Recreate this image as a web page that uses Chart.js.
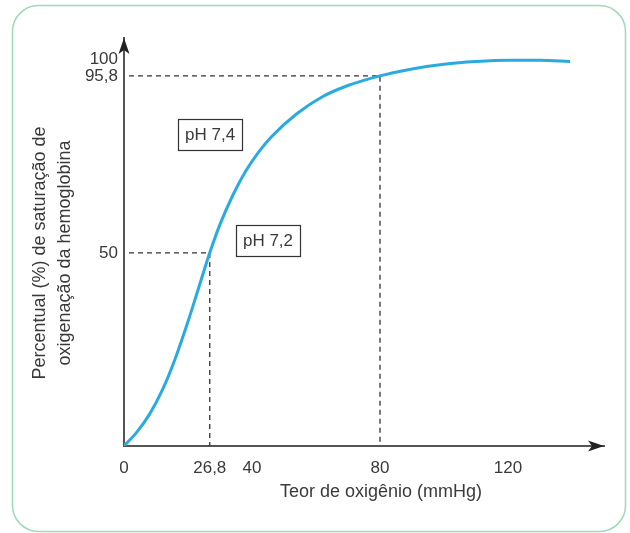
<!DOCTYPE html>
<html>
<head>
<meta charset="utf-8">
<script src="https://cdn.jsdelivr.net/npm/chart.js@4.4.1/dist/chart.umd.min.js"></script>
<style>
  html, body { margin: 0; padding: 0; background: #fff; }
  canvas { display: block; }
</style>
</head>
<body>
<canvas id="myChart" width="630" height="533"></canvas>
<script>
// curva de dissociação da hemoglobina
const pressao = [0, 4, 8, 12, 16, 20, 24, 26.8, 30, 34, 38, 42, 46, 54, 62, 70, 80, 90, 100, 110, 120, 130, 139.4];
const saturacao = [0, 3.6, 8.25, 14.5, 22.6, 32.2, 42.7, 50, 57.35, 64.9, 71.1, 76.0, 80.0, 86.0, 90.4, 93.3, 95.8, 97.6, 98.8, 99.5, 99.85, 99.85, 99.5];

const xTicks = [0, 26.8, 40, 80, 120];
const yTicks = [50, 95.8, 100];

// linhas tracejadas de referência (x, y)
const guiaX = [26.8, 80];
const guiaY = [50, 95.8];

// caixas de rótulo
const rotulos = ['pH 7,4', 'pH 7,2'];
const rotuloX = [26.9, 45];
const rotuloY = [80.7, 53.2];

const tituloX = 'Teor de oxigênio (mmHg)';
const tituloY = ['Percentual (%) de saturação de', 'oxigenação da hemoglobina'];

const FONTE = '"Liberation Sans", Arial, sans-serif';
const COR_TEXTO = '#3a3a3a';
const virgula = v => String(v).replace('.', ',');

const moldura = {
  id: 'moldura',
  beforeDraw(chart) {
    const c = chart.ctx;
    c.save();
    c.fillStyle = '#fff';
    c.fillRect(0, 0, chart.width, chart.height);
    c.strokeStyle = '#9fdab6';
    c.lineWidth = 1.5;
    c.beginPath();
    c.roundRect(12.5, 5.5, 613, 526, 26);
    c.stroke();
    c.restore();
  }
};

const guias = {
  id: 'guias',
  beforeDatasetsDraw(chart) {
    const c = chart.ctx, x = chart.scales.x, y = chart.scales.y;
    const a = chart.chartArea;
    c.save();
    c.strokeStyle = '#333';
    c.lineWidth = 1.3;
    c.setLineDash([5, 4]);
    for (let i = 0; i < guiaX.length; i++) {
      const px = x.getPixelForValue(guiaX[i]);
      const py = y.getPixelForValue(guiaY[i]);
      c.beginPath();
      c.moveTo(a.left + 5, py);
      c.lineTo(px, py);
      c.lineTo(px, a.bottom);
      c.stroke();
    }
    c.restore();
  }
};

const extras = {
  id: 'extras',
  afterDraw(chart) {
    const c = chart.ctx, x = chart.scales.x, y = chart.scales.y;
    const a = chart.chartArea;
    c.save();
    // setas dos eixos
    c.fillStyle = '#222';
    c.beginPath();
    c.moveTo(a.left, a.top);
    c.lineTo(a.left - 5.5, a.top + 16);
    c.lineTo(a.left, a.top + 12);
    c.lineTo(a.left + 5.5, a.top + 16);
    c.closePath();
    c.fill();
    c.beginPath();
    c.moveTo(a.right, a.bottom);
    c.lineTo(a.right - 16, a.bottom - 5.5);
    c.lineTo(a.right - 12, a.bottom);
    c.lineTo(a.right - 16, a.bottom + 5.5);
    c.closePath();
    c.fill();

    // caixas pH
    c.font = '17px ' + FONTE;
    c.textAlign = 'center';
    c.textBaseline = 'middle';
    for (let i = 0; i < rotulos.length; i++) {
      const px = x.getPixelForValue(rotuloX[i]);
      const py = y.getPixelForValue(rotuloY[i]);
      const w = c.measureText(rotulos[i]).width + 14;
      c.strokeStyle = '#333';
      c.lineWidth = 1.2;
      c.strokeRect(Math.round(px - w / 2) + 0.5, Math.round(py - 15.5) + 0.5, Math.round(w), 31);
      c.fillStyle = COR_TEXTO;
      c.fillText(rotulos[i], px, py + 1);
    }

    // títulos dos eixos
    c.fillStyle = COR_TEXTO;
    c.font = '18px ' + FONTE;
    c.fillText(tituloX, 381, 492);
    c.translate(53, 253);
    c.rotate(-Math.PI / 2);
    c.fillText(tituloY[0], 0, -12.5);
    c.fillText(tituloY[1], 0, 12.5);
    c.restore();
  }
};

new Chart(document.getElementById('myChart'), {
  type: 'line',
  data: {
    datasets: [{
      data: pressao.map((p, i) => ({ x: p, y: saturacao[i] })),
      borderColor: '#29abe2',
      borderWidth: 3,
      pointRadius: 0,
      cubicInterpolationMode: 'monotone',
      fill: false
    }]
  },
  options: {
    responsive: false,
    animation: false,
    layout: { padding: { top: 38, right: 26, left: 0, bottom: 0 } },
    plugins: { legend: { display: false }, tooltip: { enabled: false } },
    scales: {
      x: {
        type: 'linear',
        min: 0,
        max: 150,
        afterBuildTicks: s => { s.ticks = xTicks.map(v => ({ value: v })); },
        afterFit: s => { s.height = 87; },
        grid: { display: false, drawTicks: false },
        border: { color: '#555', width: 2 },
        ticks: {
          autoSkip: false,
          maxRotation: 0,
          padding: 12,
          color: COR_TEXTO,
          font: { family: FONTE, size: 17 },
          callback: v => virgula(v)
        }
      },
      y: {
        min: 0,
        max: 105.6,
        afterBuildTicks: s => { s.ticks = yTicks.map(v => ({ value: v })); },
        afterFit: s => { s.width = 124; },
        grid: { display: false, drawTicks: false },
        border: { color: '#555', width: 2 },
        ticks: {
          autoSkip: false,
          padding: 6,
          color: COR_TEXTO,
          font: { family: FONTE, size: 17 },
          callback: v => virgula(v)
        }
      }
    }
  },
  plugins: [moldura, guias, extras]
});
</script>
</body>
</html>
